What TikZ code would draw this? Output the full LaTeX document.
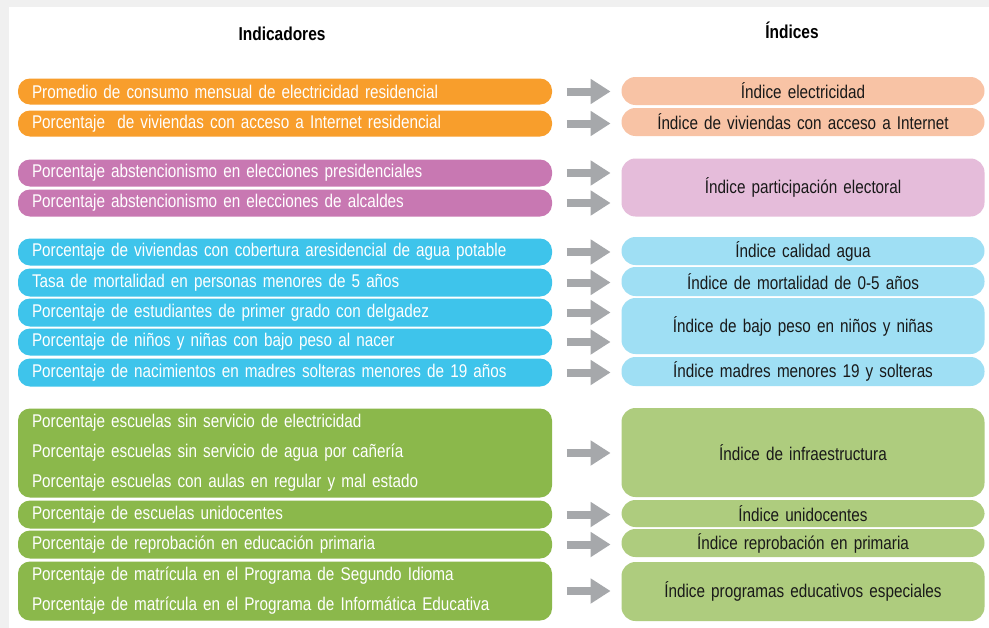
\documentclass[tikz,border=0pt]{standalone}
\usepackage{fontspec}
\setmainfont{Liberation Sans}[FakeStretch=0.83,WordSpace=0.8]
\usepackage{xcolor}
\usetikzlibrary{arrows.meta, positioning}

\definecolor{orangeL}{HTML}{F89E2C}
\definecolor{orangeR}{HTML}{F8C3A5}
\definecolor{pinkL}{HTML}{C878B2}
\definecolor{pinkR}{HTML}{E5BCDA}
\definecolor{blueL}{HTML}{3EC4EB}
\definecolor{blueR}{HTML}{9FDFF4}
\definecolor{greenL}{HTML}{8BB84B}
\definecolor{greenR}{HTML}{AECC7E}
\definecolor{arrowgray}{HTML}{A6A8AB}

\begin{document}
\begin{tikzpicture}[x=0.75pt,y=-0.75pt,
        indicador/.style={rounded corners=9pt,inner ysep=0pt,inner xsep=10.5pt,
            text width=379.5pt,minimum height=#1*0.75pt,align=left,text=white,
            font=\fontsize{13.8}{22.5}\selectfont},
        indice/.style={rounded corners=10.5pt,inner ysep=0pt,inner xsep=10pt,
            text width=252.25pt,minimum height=#1*0.75pt,align=center,text=black!90,
            font=\fontsize{13.8}{16}\selectfont},
        titulo/.style={font=\fontsize{14}{16}\selectfont\bfseries},
        flecha/.style={draw=arrowgray,line width=6pt,-{Triangle[length=15pt,width=18pt]}}]

    % fondo
    \fill[black!6] (0,0) rectangle (989,628);
    \fill[white] (9,7) rectangle (989,628);
    \useasboundingbox (0,0) rectangle (989,628);

    \node[titulo] (tind) at (282,34) {Indicadores};
    \node[titulo] (tidx) at (792,30) {Índices};

    % indicadores
    \node[indicador=26,fill=orangeL] (o1) at (285,91.5) {Promedio de consumo mensual de electricidad residencial};
    \node[indicador=26,fill=orangeL] (o2) at (285,123.5) {Porcentaje~ de viviendas con acceso a Internet residencial};

    \node[indicador=27,fill=pinkL] (p1) at (285,173) {Porcentaje abstencionismo en elecciones presidenciales};
    \node[indicador=27,fill=pinkL] (p2) at (285,203) {Porcentaje abstencionismo en elecciones de alcaldes};

    \node[indicador=27,fill=blueL] (b1) at (285,252) {Porcentaje de viviendas con cobertura aresidencial de agua potable};
    \node[indicador=28,fill=blueL] (b2) at (285,282.5) {Tasa de mortalidad en personas menores de 5 años};
    \node[indicador=28,fill=blueL] (b3) at (285,312.5) {Porcentaje de estudiantes de primer grado con delgadez};
    \node[indicador=27,fill=blueL] (b4) at (285,342) {Porcentaje de niños y niñas con bajo peso al nacer};
    \node[indicador=28,fill=blueL] (b5) at (285,372.5) {Porcentaje de nacimientos en madres solteras menores de 19 años};

    \node[indicador=89,fill=greenL] (g1) at (285,453) {Porcentaje escuelas sin servicio de electricidad\\
        Porcentaje escuelas sin servicio de agua por cañería\\
        Porcentaje escuelas con aulas en regular y mal estado};
    \node[indicador=28,fill=greenL] (g2) at (285,514.5) {Porcentaje de escuelas unidocentes};
    \node[indicador=28,fill=greenL] (g3) at (285,544.5) {Porcentaje de reprobación en educación primaria};
    \node[indicador=59,fill=greenL] (g4) at (285,591) {Porcentaje de matrícula en el Programa de Segundo Idioma\\
        Porcentaje de matrícula en el Programa de Informática Educativa};

    % indices
    \node[indice=28,fill=orangeR] (r1) at (803,91) {Índice electricidad};
    \node[indice=28,fill=orangeR] (r2) at (803,122) {Índice de viviendas con acceso a Internet};
    \node[indice=58,fill=pinkR] (rp) at (803,187.5) {Índice participación electoral};
    \node[indice=28,fill=blueR] (rb1) at (803,251) {Índice calidad agua};
    \node[indice=29,fill=blueR] (rb2) at (803,281.5) {Índice de mortalidad de 0-5 años};
    \node[indice=56,fill=blueR] (rb3) at (803,326) {Índice de bajo peso en niños y niñas};
    \node[indice=29,fill=blueR] (rb4) at (803,371.5) {Índice madres menores 19 y solteras};
    \node[indice=89,fill=greenR] (rg1) at (803,452.5) {Índice de infraestructura};
    \node[indice=27,fill=greenR] (rg2) at (803,513.5) {Índice unidocentes};
    \node[indice=28,fill=greenR] (rg3) at (803,543) {Índice reprobación en primaria};
    \node[indice=59,fill=greenR] (rg4) at (803,591.5) {Índice programas educativos especiales};

    % flechas
    \draw[flecha] ([xshift=11pt]o1.east) -- ([xshift=-8pt]o1.east -| r1.west);
    \draw[flecha] ([xshift=11pt]o2.east) -- ([xshift=-8pt]o2.east -| r2.west);
    \draw[flecha] ([xshift=11pt]p1.east) -- ([xshift=-8pt]p1.east -| rp.west);
    \draw[flecha] ([xshift=11pt]p2.east) -- ([xshift=-8pt]p2.east -| rp.west);
    \draw[flecha] ([xshift=11pt]b1.east) -- ([xshift=-8pt]b1.east -| rb1.west);
    \draw[flecha] ([xshift=11pt]b2.east) -- ([xshift=-8pt]b2.east -| rb2.west);
    \draw[flecha] ([xshift=11pt]b3.east) -- ([xshift=-8pt]b3.east -| rb3.west);
    \draw[flecha] ([xshift=11pt]b4.east) -- ([xshift=-8pt]b4.east -| rb3.west);
    \draw[flecha] ([xshift=11pt]b5.east) -- ([xshift=-8pt]b5.east -| rb4.west);
    \draw[flecha] ([xshift=11pt]g1.east) -- ([xshift=-8pt]g1.east -| rg1.west);
    \draw[flecha] ([xshift=11pt]g2.east) -- ([xshift=-8pt]g2.east -| rg2.west);
    \draw[flecha] ([xshift=11pt]g3.east) -- ([xshift=-8pt]g3.east -| rg3.west);
    \draw[flecha] ([xshift=11pt]g4.east) -- ([xshift=-8pt]g4.east -| rg4.west);
\end{tikzpicture}
\end{document}
